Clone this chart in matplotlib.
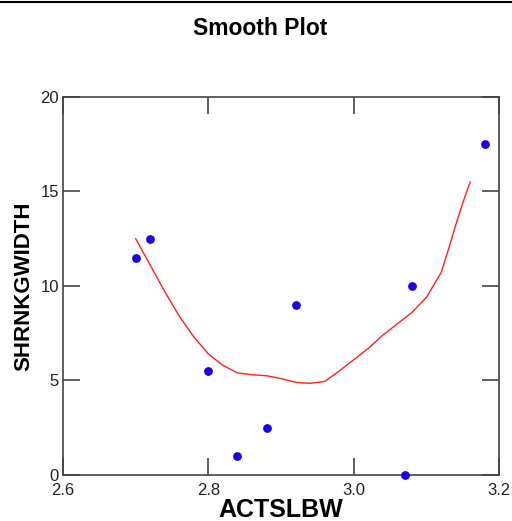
import matplotlib.pyplot as plt
from matplotlib.lines import Line2D

plt.rcParams['font.family'] = ['Liberation Sans', 'DejaVu Sans']

# observed points
actslbw = [2.70, 2.72, 2.80, 2.84, 2.88, 2.92, 3.07, 3.08, 3.18]
shrnkgwidth = [11.5, 12.5, 5.5, 1.0, 2.5, 9.0, 0.0, 10.0, 17.5]

# smoothed curve
smooth_x = [2.70, 2.72, 2.74, 2.76, 2.78, 2.80, 2.82, 2.84, 2.86, 2.88, 2.90,
            2.92, 2.94, 2.96, 2.98, 3.00, 3.02, 3.04, 3.06, 3.08, 3.10, 3.12,
            3.13, 3.14, 3.15, 3.16]
smooth_y = [12.5, 11.1, 9.7, 8.4, 7.3, 6.4, 5.8, 5.4, 5.3, 5.25, 5.1,
            4.9, 4.85, 4.95, 5.5, 6.1, 6.7, 7.4, 8.0, 8.6, 9.4, 10.7,
            11.9, 13.2, 14.4, 15.5]

xticks = [2.6, 2.8, 3.0, 3.2]
xtick_labels = ['2.6', '2.8', '3.0', '3.2']
yticks = [0, 5, 10, 15, 20]

fig = plt.figure(figsize=(5.12, 5.21), dpi=100)
ax = fig.add_axes([0.123, 0.0883, 0.852, 0.7257])

ax.plot(smooth_x, smooth_y, color='#ff2020', lw=1.0)
ax.scatter(actslbw, shrnkgwidth, s=28, color='#1a00e6', zorder=3, clip_on=False)

ax.set_xlim(2.6, 3.2)
ax.set_ylim(0, 20)
ax.set_xticks(xticks)
ax.set_xticklabels(xtick_labels)
ax.set_yticks(yticks)
ax.tick_params(direction='in', length=12, width=1.2, color='#444444',
               labelsize=12, labelcolor='#222222', top=True, right=True, pad=3)
ax.tick_params(axis='x', pad=6)
for s in ax.spines.values():
    s.set_color('#444444')
    s.set_linewidth(1.2)

ax.set_xlabel('ACTSLBW', fontsize=18, fontweight='bold', labelpad=0)
ax.set_ylabel('SHRNKGWIDTH', fontsize=16, fontweight='bold', labelpad=4)
fig.text(0.508, 0.946, 'Smooth Plot', ha='center', va='center',
         fontsize=16.5, fontweight='bold')

# border line across the top
fig.add_artist(Line2D([0, 1], [0.997, 0.997], transform=fig.transFigure,
                      color='black', lw=1.5))

fig.savefig('out.png', dpi=100)
